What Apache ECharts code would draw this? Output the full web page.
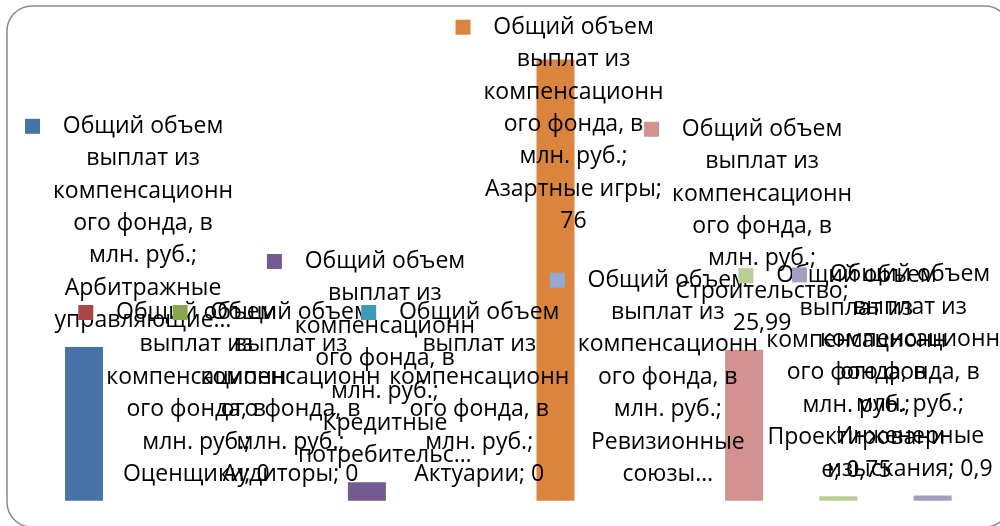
<!DOCTYPE html>
<html>
<head>
<meta charset="utf-8">
<script src="https://cdn.jsdelivr.net/npm/echarts@6/dist/echarts.min.js"></script>
<style>
  html, body { margin: 0; padding: 0; background: #fff; }
  #chart { width: 1000px; height: 526px; }
</style>
</head>
<body>
<div id="chart"></div>
<script>
// Compensation fund payouts by type of self-regulated organisation, mln rub.
const seriesName = 'Общий объем выплат из компенсационного фонда, в млн. руб.';

const categories = [
  'Арбитражные управляющие',
  'Оценщики',
  'Аудиторы',
  'Кредитные потребительские кооперативы',
  'Актуарии',
  'Азартные игры',
  'Ревизионные союзы сельскохозяйственных кооперативов',
  'Строительство',
  'Проектирование',
  'Инженерные изыскания'
];

const values = [26.5, 0, 0, 3.2, 0, 76, 0, 25.99, 0.75, 0.9];

const colors = [
  '#4672A8', '#AA4643', '#89A54E', '#735A91', '#3F9AB3',
  '#DB843D', '#93A9CF', '#D39190', '#B8CE94', '#A89BC2'
];

// Label typography and box
const FONT_FAMILY = '"Open Sans", "Noto Sans", sans-serif';
const FONT_SIZE = 23;
const LINE_H = 32.4;
const WRAP_W = 185;      // wrap width of label text
const TEXT_W = 180;      // width of the centred text column
const KEY = 15;          // legend key square
const KEY_GAP = 13;
const MAX_LINES = 7;
const SHIFT_X = 4;       // labels sit slightly right of the bar centre

const measureCtx = document.createElement('canvas').getContext('2d');
measureCtx.font = FONT_SIZE + 'px ' + FONT_FAMILY;
const tw = s => measureCtx.measureText(s).width;

function fmt(v) {
  return String(v).replace('.', ',');
}

// Greedy word wrap; words wider than the box are split by characters,
// overflow past MAX_LINES is cut with an ellipsis.
function wrap(text) {
  const words = text.split(' ');
  const lines = [];
  let cur = '';
  for (const w of words) {
    const trial = cur ? cur + ' ' + w : w;
    if (tw(trial) <= WRAP_W) { cur = trial; continue; }
    if (cur) lines.push(cur);
    let word = w;
    while (tw(word) > WRAP_W) {
      let n = word.length;
      while (n > 1 && tw(word.slice(0, n)) > WRAP_W) n--;
      lines.push(word.slice(0, n));
      word = word.slice(n);
    }
    cur = word;
  }
  if (cur) lines.push(cur);
  if (lines.length > MAX_LINES) {
    const kept = lines.slice(0, MAX_LINES);
    let last = kept[MAX_LINES - 1].replace(/[;,\s]+$/, '');
    while (last.length && tw(last + '…') > WRAP_W) last = last.slice(0, -1);
    kept[MAX_LINES - 1] = last.replace(/[;,\s]+$/, '') + '…';
    return kept;
  }
  return lines;
}

function labelText(i) {
  const lines = wrap(seriesName + '; ' + categories[i] + '; ' + fmt(values[i]));
  return lines.map((ln, j) =>
    (j === 0 ? '{k' + i + '|}{g|}' : '{s|}') + '{t|' + ln + '}'
  ).join('\n');
}

const rich = {
  g: { width: KEY_GAP, align: 'left', lineHeight: LINE_H },
  s: { width: KEY + KEY_GAP, align: 'left', lineHeight: LINE_H },
  t: {
    width: TEXT_W, align: 'center', lineHeight: LINE_H,
    fontFamily: FONT_FAMILY, fontSize: FONT_SIZE, color: '#000'
  }
};
colors.forEach((c, i) => {
  rich['k' + i] = { width: KEY, height: KEY, backgroundColor: c, align: 'left', lineHeight: LINE_H };
});

// Labels are kept inside the chart frame
const BOUND_L = 25, BOUND_R = 1000, BOUND_T = 11;

const chart = echarts.init(document.getElementById('chart'), null, { renderer: 'canvas' });

chart.setOption({
  animation: false,
  backgroundColor: '#fff',
  grid: { left: 36.85, right: 20.15, top: 36.4, bottom: 25.3 },
  xAxis: {
    type: 'category',
    data: categories,
    show: false
  },
  yAxis: {
    type: 'value',
    min: 0,
    max: 80,
    show: false,
    splitLine: { show: false }
  },
  graphic: [{
    type: 'rect',
    shape: { x: 7, y: 6, width: 1003, height: 521, r: 25 },
    style: { fill: 'none', stroke: '#8a8a8a', lineWidth: 1.5 },
    silent: true,
    z: -1
  }],
  series: [{
    type: 'bar',
    name: seriesName,
    barWidth: 38,
    data: values.map((v, i) => ({
      value: v,
      itemStyle: { color: colors[i] },
      label: { formatter: labelText(i) }
    })),
    label: {
      show: true,
      position: 'top',
      distance: 10,
      lineHeight: LINE_H,
      fontFamily: FONT_FAMILY,
      fontSize: FONT_SIZE,
      color: '#000',
      rich: rich
    },
    labelLayout: function (p) {
      const r = p.labelRect;
      const x0 = r.x + SHIFT_X;
      let dx = SHIFT_X, dy = 0;
      if (x0 < BOUND_L) dx += BOUND_L - x0;
      if (x0 + r.width > BOUND_R) dx += BOUND_R - (x0 + r.width);
      if (r.y < BOUND_T) dy = BOUND_T - r.y;
      return { dx: dx, dy: dy };
    }
  }]
});
</script>
</body>
</html>
